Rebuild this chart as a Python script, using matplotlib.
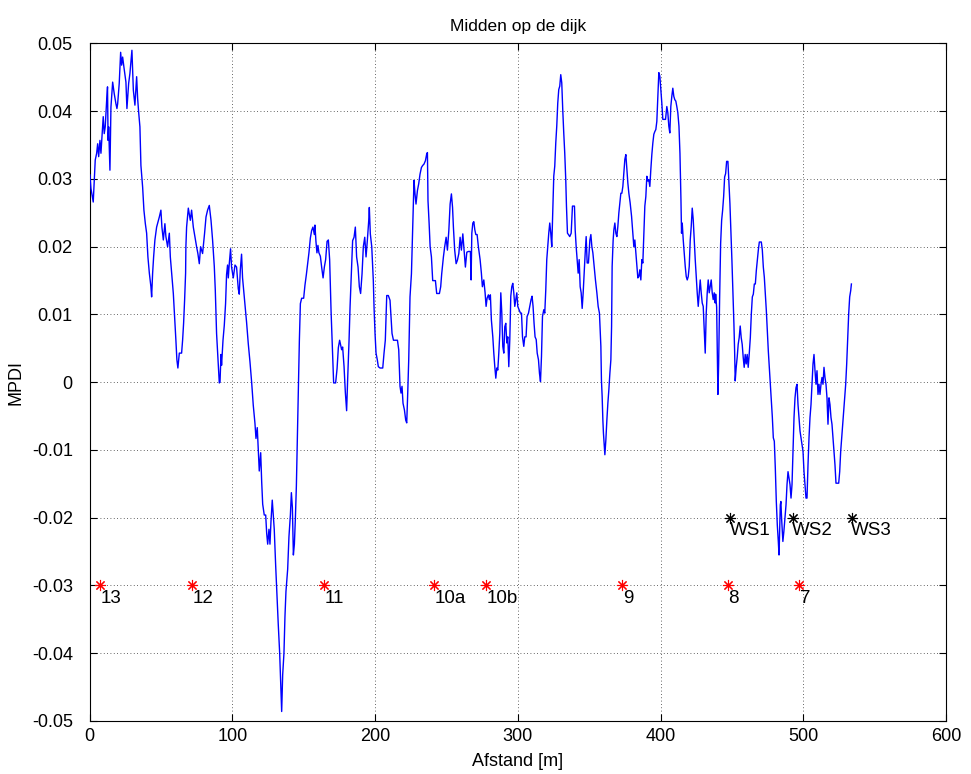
import matplotlib
matplotlib.use('Agg')
import matplotlib.pyplot as plt
from matplotlib.ticker import FixedLocator, FixedFormatter

# MPDI profile along the dike
afstand = [
    0.3, 1.0, 2.6, 3.3, 4.0, 5.0, 5.7, 6.4, 7.3, 8.0,
    8.7, 9.6, 10.3, 11.0, 12.0, 12.6, 13.0, 13.4, 14.3, 15.0,
    16.2, 17.3, 18.5, 19.2, 19.7, 20.8, 21.8, 22.5, 23.2, 24.1,
    25.5, 26.2, 27.4, 28.3, 29.7, 30.7, 31.8, 33.0, 33.7, 34.4,
    35.3, 36.0, 37.2, 38.1, 39.1, 40.0, 40.9, 41.9, 43.0, 43.5,
    44.2, 44.9, 45.8, 47.0, 48.9, 50.0, 50.7, 51.7, 52.8, 53.5,
    54.7, 55.9, 56.6, 57.5, 58.7, 59.6, 60.5, 61.2, 61.9, 62.9,
    64.5, 65.2, 65.9, 66.6, 67.3, 67.5, 68.0, 69.2, 70.6, 71.5,
    72.7, 73.4, 75.0, 75.9, 76.9, 77.8, 79.2, 80.6, 81.6, 82.7,
    83.9, 85.1, 86.2, 87.4, 88.1, 89.0, 90.0, 90.9,
    91.4, 92.1, 92.5, 93.5, 94.4, 95.3, 96.0, 96.7, 97.2, 97.9,
    98.8, 99.5, 100.7, 101.9, 103.0, 104.2, 104.9, 105.6, 106.5, 107.2,
    108.4, 109.3, 110.0, 111.2, 112.4, 113.6, 114.7, 115.9, 116.6, 117.5,
    118.2, 118.9, 119.9, 120.6, 121.3, 122.4, 123.4, 124.1, 124.8, 125.7,
    126.4, 127.1, 128.0, 128.7, 129.4, 130.4, 131.3, 132.2, 133.2, 133.9,
    134.6, 135.3, 136.2, 136.9, 137.6, 138.8, 139.7, 140.7, 141.4, 142.1,
    142.8, 143.5, 144.2, 144.9, 145.6, 146.3, 147.0, 147.7, 148.6, 150.0,
    150.9, 151.9, 152.8, 153.7, 154.7, 155.6, 156.5, 157.5, 157.9, 158.6,
    159.3, 160.0, 160.7, 161.7, 162.6, 163.6, 164.5, 165.4, 166.4, 167.3,
    168.2, 169.2, 170.1, 171.0, 172.4, 173.4, 174.3, 175.2,
    176.6, 177.3, 178.3, 179.2, 180.1, 180.8, 181.8, 182.5, 183.4, 184.3,
    185.3, 186.2, 187.1, 188.1, 189.0, 189.9, 190.9, 191.8, 192.8, 193.7,
    194.6, 195.6, 196.0, 196.7, 197.7, 198.4, 198.8, 199.3, 200.0, 200.7,
    201.6, 202.3, 203.5, 205.4, 206.3, 207.2, 208.2, 209.3, 210.5, 211.2,
    211.9, 212.9, 215.7, 216.6, 217.1, 217.5, 218.2, 218.9, 219.6, 220.6,
    221.5, 222.2, 222.9, 223.6, 224.5, 225.5, 226.2, 226.9, 227.3, 228.0,
    228.7, 229.7, 230.6, 231.5, 232.5, 233.4, 234.3, 235.3, 236.2, 236.7,
    237.1, 237.9, 238.6, 239.5, 240.4, 242.3, 243.2, 245.1, 246.0, 246.7,
    247.9, 248.8, 249.8, 250.7, 251.7, 252.6, 253.5, 254.3, 254.9, 255.8,
    256.8, 257.7, 258.7, 259.6, 260.5, 261.5, 262.4, 263.3, 264.3,
    265.4, 266.8, 267.3, 267.8, 268.5, 269.2, 269.9, 270.6, 271.5, 272.4,
    273.6, 274.5, 275.2, 276.2, 277.1, 277.8, 278.5, 279.4, 280.1, 280.8,
    281.5, 282.5, 283.2, 283.9, 284.6, 285.3, 286.0, 286.7, 287.4, 288.1,
    288.8, 289.5, 290.2, 290.9, 291.6, 292.3, 293.0, 293.7, 294.4, 295.1,
    295.8, 296.5, 297.2, 297.9, 298.6, 299.3, 300.0, 300.9, 301.9, 302.6,
    303.3, 304.2, 304.9, 305.8, 306.5, 307.5, 308.4, 309.3, 310.0, 310.7,
    311.4, 312.1, 312.9, 313.6, 314.5, 315.2, 315.9, 316.6, 317.3, 318.2,
    318.9, 319.6, 320.3, 321.0, 321.7, 322.4, 323.1, 323.8, 324.5, 325.2,
    325.9, 326.6, 327.3, 328.0, 328.7, 329.4, 330.1, 330.8, 331.5, 332.2,
    332.9, 333.6, 334.1, 334.8, 335.5, 336.4, 337.4, 338.3, 339.7, 340.2,
    340.9, 341.6, 342.3, 343.0, 343.7, 344.4, 345.1, 345.8, 346.5, 347.2,
    347.9, 348.6, 349.5,
    350.5, 351.2, 351.9, 352.6, 353.5, 354.4, 355.4, 356.3, 357.2, 358.2,
    358.6, 359.1, 359.6, 360.0, 360.5, 361.0, 361.7, 362.4, 363.1, 363.8,
    364.5, 365.2, 365.7, 366.1, 366.8, 367.3, 368.0, 368.7, 369.4, 370.1,
    370.8, 371.5, 372.2, 372.9, 373.6, 374.3, 375.0, 375.7, 376.4, 377.1,
    377.8, 378.7, 379.7, 380.6, 381.3, 382.0, 382.7, 383.4, 384.1, 384.8,
    385.5, 386.2, 386.9, 387.6, 388.3, 389.0, 389.7, 390.4, 391.1, 391.8,
    392.5, 393.2, 393.9, 394.6, 395.3, 396.0, 396.7, 397.4, 398.1, 398.8,
    399.5, 400.2, 400.9, 401.6, 403.5, 404.4, 405.1, 405.8, 406.5, 407.2,
    407.9, 408.6, 409.3, 410.0, 410.7, 411.4, 412.1, 412.9, 413.6, 414.3,
    414.7, 415.2, 415.9, 416.6, 417.3, 418.0, 418.7, 419.4, 420.1, 420.8,
    421.5, 422.2, 422.9, 423.6, 424.3, 425.0, 425.7, 426.4, 427.1, 427.8,
    428.5, 429.2, 429.9, 430.6, 431.3, 432.0, 432.7, 433.4, 434.1, 434.8,
    435.5, 436.2, 436.9, 437.6, 438.3,
    438.6, 439.3, 439.7, 440.2, 440.7, 441.4, 442.1, 442.8, 443.5, 444.2,
    444.9, 445.6, 446.3, 447.2, 447.9, 448.6, 449.3, 450.0, 450.7, 451.4,
    451.9, 452.3, 453.0, 453.7, 454.4, 455.1, 455.8, 456.5, 457.2, 457.9,
    458.6, 459.3, 460.0, 460.7, 461.4, 462.1, 462.9, 463.6, 464.3, 465.0,
    465.7, 466.4, 467.1, 467.8, 468.5, 469.2, 470.6, 471.3, 472.0, 472.7,
    473.4, 474.1, 474.8, 475.5, 476.2, 476.9, 477.6, 478.3, 479.0, 479.7,
    480.4, 481.1, 481.8, 482.5, 483.0, 483.4, 483.9, 484.3, 484.8, 485.3,
    485.7, 486.4, 487.1, 487.9, 488.6, 489.3, 490.0, 490.7, 491.4, 492.1,
    492.8, 493.5, 494.2, 494.9, 495.6, 496.3, 497.0, 497.7, 498.4, 499.1,
    499.8, 500.5, 501.2, 501.9, 502.6, 503.3, 504.0, 504.7, 505.4, 506.1,
    506.8, 507.5, 508.2, 508.9, 509.6, 510.3, 511.0, 511.7, 512.4, 513.1,
    513.8, 514.5, 515.2, 515.9, 516.6, 517.3, 518.0, 518.7, 519.4, 520.1,
    520.8, 521.5, 522.2, 522.9, 524.8, 525.5, 526.2, 526.9, 527.6, 528.3,
    529.0, 529.7, 530.4, 531.1, 531.8, 532.5, 533.2, 533.7,
]
mpdi = [
    0.0306, 0.0286, 0.0266, 0.0298, 0.0328, 0.0338, 0.0352, 0.0333, 0.0357, 0.0338,
    0.0362, 0.0392, 0.0367, 0.0377, 0.0416, 0.0436, 0.0357, 0.0377, 0.0313, 0.0406,
    0.0443, 0.0426, 0.0411, 0.0404, 0.0411, 0.0441, 0.0487, 0.0468, 0.048, 0.0465,
    0.0443, 0.0404, 0.0441, 0.0456, 0.049, 0.0431, 0.0409, 0.0451, 0.0419, 0.0399,
    0.0377, 0.032, 0.0288, 0.0254, 0.0234, 0.022, 0.0185, 0.0161, 0.0141, 0.0126,
    0.0161, 0.0185, 0.021, 0.0229, 0.0244, 0.0254, 0.0229, 0.021, 0.0234, 0.0215,
    0.02, 0.022, 0.0185, 0.0161, 0.0131, 0.0097, 0.0062, 0.0033, 0.0021, 0.0043,
    0.0043, 0.0062, 0.0087, 0.0121, 0.0161, 0.02, 0.0229, 0.0257, 0.0239, 0.0254,
    0.0229, 0.022, 0.02, 0.019, 0.0175, 0.02, 0.019, 0.022, 0.0244, 0.0254,
    0.0261, 0.0239, 0.021, 0.0171, 0.0136, 0.0072, 0.0033, -0.0001,
    0.0, 0.0041, 0.0025, 0.0062, 0.0084, 0.0116, 0.0159, 0.0173, 0.0154, 0.0175,
    0.0197, 0.017, 0.0154, 0.0173, 0.017, 0.0138, 0.013, 0.0165, 0.0189, 0.0154,
    0.0127, 0.0105, 0.0089, 0.0057, 0.003, -0.0001, -0.0034, -0.0061, -0.0083, -0.0067,
    -0.0099, -0.0131, -0.0104, -0.0147, -0.018, -0.0196, -0.0196, -0.0223, -0.0239, -0.0217,
    -0.0239, -0.0206, -0.0174, -0.0196, -0.0217, -0.0271, -0.0314, -0.0357, -0.04, -0.0443,
    -0.0486, -0.0432, -0.04, -0.0346, -0.0309, -0.0276, -0.0228, -0.0196, -0.0163, -0.0185,
    -0.0255, -0.0239, -0.0201, -0.0153, -0.0083, -0.0012, 0.0062, 0.0116, 0.0124, 0.0124,
    0.0143, 0.0159, 0.0175, 0.0191, 0.0213, 0.0224, 0.0229, 0.0218, 0.0232, 0.0208,
    0.0191, 0.0202, 0.0191, 0.0186, 0.017, 0.0154, 0.017, 0.0181, 0.0208, 0.021,
    0.0181, 0.0105, 0.0051, -0.0001, -0.0001, 0.002, 0.0051, 0.0062,
    0.0048, 0.0052, 0.0023, -0.0015, -0.0042, 0.0003, 0.0062, 0.0111, 0.016, 0.0209,
    0.0214, 0.0229, 0.0185, 0.017, 0.0141, 0.0131, 0.016, 0.02, 0.0214, 0.0185,
    0.0209, 0.0239, 0.0258, 0.0219, 0.02, 0.017, 0.015, 0.0111, 0.0072, 0.0043,
    0.0033, 0.0023, 0.0021, 0.0021, 0.0043, 0.0062, 0.0128, 0.0128, 0.0121, 0.0097,
    0.0072, 0.0062, 0.0062, 0.0048, 0.0018, -0.0006, -0.0016, -0.0006, -0.0031, -0.0041,
    -0.0056, -0.006, -0.0016, 0.0033, 0.0126, 0.016, 0.0214, 0.0273, 0.0298, 0.0278,
    0.0263, 0.0283, 0.0293, 0.0307, 0.0317, 0.032, 0.0322, 0.0327, 0.0337, 0.0339,
    0.0268, 0.0234, 0.02, 0.0185, 0.015, 0.015, 0.0131, 0.0131, 0.0141, 0.016,
    0.0185, 0.02, 0.0214, 0.0195, 0.0224, 0.0263, 0.0278, 0.0258, 0.0229, 0.0195,
    0.0175, 0.018, 0.019, 0.0214, 0.0195, 0.0219, 0.0195, 0.017, 0.0192,
    0.0193, 0.0193, 0.0151, 0.022, 0.0235, 0.0237, 0.0225, 0.0218, 0.0218, 0.02,
    0.0181, 0.0161, 0.0141, 0.0151, 0.0132, 0.0112, 0.0124, 0.0129, 0.0122, 0.0129,
    0.0092, 0.0067, 0.0043, 0.0023, 0.0006, 0.0021, 0.0018, 0.0043, 0.0072, 0.0132,
    0.0102, 0.0053, 0.0043, 0.0082, 0.0087, 0.0058, 0.0067, 0.0023, 0.0063, 0.0127,
    0.0141, 0.0146, 0.0132, 0.0112, 0.0122, 0.0132, 0.0112, 0.0107, 0.0102, 0.0102,
    0.0067, 0.0053, 0.0067, 0.0067, 0.0097, 0.0102, 0.0112, 0.0122, 0.0127, 0.0112,
    0.0087, 0.0067, 0.0063, 0.0043, 0.0033, 0.0013, 0.0001, 0.0038, 0.0097, 0.0107,
    0.0102, 0.0136, 0.0181, 0.02, 0.022, 0.0235, 0.022, 0.02, 0.0255, 0.0304,
    0.0319, 0.0353, 0.0378, 0.0412, 0.0432, 0.0437, 0.0454, 0.0442, 0.0402, 0.0368,
    0.0338, 0.0299, 0.026, 0.022, 0.0218, 0.0215, 0.022, 0.026, 0.026, 0.0225,
    0.02, 0.0181, 0.0161, 0.0181, 0.0141, 0.0132, 0.0109, 0.0132, 0.0161, 0.019,
    0.0215, 0.0176, 0.0176,
    0.021, 0.0218, 0.02, 0.0191, 0.0171, 0.0151, 0.0132, 0.0112, 0.0102, 0.0053,
    0.0003, -0.0021, -0.0056, -0.0075, -0.009, -0.0107, -0.0085, -0.0056, -0.0031, -0.0011,
    0.0013, 0.0033, 0.0082, 0.0171, 0.021, 0.0225, 0.0235, 0.022, 0.0215, 0.023,
    0.025, 0.0265, 0.0279, 0.0279, 0.0289, 0.0309, 0.0329, 0.0336, 0.0314, 0.0294,
    0.0279, 0.0265, 0.0245, 0.022, 0.02, 0.021, 0.0191, 0.0171, 0.0154, 0.0156,
    0.0166, 0.0151, 0.0181, 0.0176, 0.022, 0.026, 0.0274, 0.0304, 0.0297, 0.0299,
    0.0289, 0.0314, 0.0336, 0.0353, 0.0366, 0.037, 0.0373, 0.0385, 0.0422, 0.0457,
    0.0452, 0.0432, 0.0412, 0.0388, 0.0388, 0.0407, 0.0398, 0.0378, 0.0368, 0.0407,
    0.0422, 0.0434, 0.0422, 0.0417, 0.0415, 0.0407, 0.0398, 0.0378, 0.0338, 0.0269,
    0.022, 0.0235, 0.021, 0.0191, 0.0171, 0.0156, 0.0151, 0.0156, 0.0171, 0.021,
    0.023, 0.0257, 0.024, 0.021, 0.0181, 0.0156, 0.0132, 0.0112, 0.0132, 0.0151,
    0.0132, 0.0117, 0.0112, 0.0077, 0.0043, 0.0102, 0.0132, 0.0151, 0.0132, 0.0141,
    0.0151, 0.0132, 0.0122, 0.0132, 0.0117,
    0.013, 0.0111, 0.0056, -0.0018, 0.0027, 0.0125, 0.0205, 0.0239, 0.0254, 0.0274,
    0.0303, 0.0308, 0.0326, 0.0326, 0.0294, 0.0264, 0.0224, 0.018, 0.0135, 0.0086,
    0.0046, 0.0002, 0.0022, 0.0037, 0.0056, 0.0066, 0.0083, 0.0066, 0.0056, 0.0037,
    0.0022, 0.0041, 0.0027, 0.0041, 0.0022, 0.0041, 0.0066, 0.0101, 0.0126, 0.013,
    0.0145, 0.0145, 0.0165, 0.018, 0.0195, 0.0207, 0.0207, 0.0195, 0.017, 0.0155,
    0.013, 0.0106, 0.0076, 0.0046, 0.0022, -0.0001, -0.0026, -0.0051, -0.0082, -0.0087,
    -0.0127, -0.0176, -0.0211, -0.0235, -0.0255, -0.022, -0.0181, -0.0176, -0.0201, -0.022,
    -0.0235, -0.022, -0.0201, -0.0181, -0.0151, -0.0132, -0.0141, -0.0151, -0.0171, -0.0151,
    -0.0102, -0.0052, -0.0023, -0.0008, -0.0003, -0.0033, -0.0052, -0.0072, -0.0082, -0.0092,
    -0.0102, -0.0132, -0.0151, -0.0171, -0.0171, -0.0122, -0.0082, -0.0052, -0.0033, -0.0003,
    0.0027, 0.0041, 0.0017, -0.0003, 0.0017, -0.0018, -0.0003, -0.0018, -0.0003, 0.0007,
    -0.0003, 0.0022, 0.0007, -0.0003, -0.0023, -0.0062, -0.0023, -0.0033, -0.0052, -0.0062,
    -0.0082, -0.0102, -0.0122, -0.0149, -0.0149, -0.0132, -0.0102, -0.0082, -0.0062, -0.0043,
    -0.0023, -0.0003, 0.0027, 0.0066, 0.0101, 0.0126, 0.0135, 0.0145,
]

# measurement locations (red) and weather stations (black)
vak_x = [7, 72, 164, 241, 278, 373, 447, 497]
vak_labels = ['13', '12', '11', '10a', '10b', '9', '8', '7']
vak_y = -0.03

ws_x = [449, 492.5, 534]
ws_labels = ['WS1', 'WS2', 'WS3']
ws_y = -0.02

xticks = [0, 100, 200, 300, 400, 500, 600]
yticks = [-0.05, -0.04, -0.03, -0.02, -0.01, 0, 0.01, 0.02, 0.03, 0.04, 0.05]
ytick_labels = ['-0.05', '-0.04', '-0.03', '-0.02', '-0.01', '0',
                '0.01', '0.02', '0.03', '0.04', '0.05']


def main():
    plt.rcParams['font.family'] = ['Liberation Sans', 'DejaVu Sans']
    fig = plt.figure(figsize=(9.71, 7.74), dpi=100)
    ax = fig.add_axes([0.0922, 0.0685, 0.8821, 0.8753])

    ax.plot(afstand, mpdi, '-', color=(0, 0, 1), linewidth=1.0, zorder=3)

    # asterisk markers like MATLAB '*'
    asterisk = (8, 2, 0)
    ax.plot(vak_x, [vak_y] * len(vak_x), linestyle='none', marker=asterisk,
            markersize=8, markeredgewidth=0.8, color='red', zorder=4)
    for x, lab in zip(vak_x, vak_labels):
        ax.text(x + 0.5, vak_y - 0.0019, lab, fontsize=13.5, ha='left', va='center', zorder=5)

    ax.plot(ws_x, [ws_y] * len(ws_x), linestyle='none', marker=asterisk,
            markersize=8, markeredgewidth=0.8, color='black', zorder=4)
    for x, lab in zip(ws_x, ws_labels):
        ax.text(x - 0.5, ws_y - 0.0019, lab, fontsize=13.5, ha='left', va='center', zorder=5)

    ax.set_xlim(0, 600)
    ax.set_ylim(-0.05, 0.05)
    ax.xaxis.set_major_locator(FixedLocator(xticks))
    ax.yaxis.set_major_locator(FixedLocator(yticks))
    ax.yaxis.set_major_formatter(FixedFormatter(ytick_labels))

    ax.grid(True, color='black', linestyle=(0, (1, 3)), linewidth=0.6, alpha=0.8)
    ax.tick_params(direction='in', top=True, right=True, length=5, width=0.8,
                   labelsize=13)
    ax.tick_params(axis='y', pad=12)
    ax.tick_params(axis='x', pad=5)
    for spine in ax.spines.values():
        spine.set_linewidth(0.8)

    ax.set_title("Midden op de dijk", fontsize=12.5, pad=9)
    ax.set_xlabel("Afstand [m]", fontsize=13, labelpad=6)
    ax.set_ylabel("MPDI", fontsize=13, labelpad=5)

    fig.savefig('out.png', dpi=100, facecolor='white')
    plt.close(fig)


if __name__ == '__main__':
    main()
